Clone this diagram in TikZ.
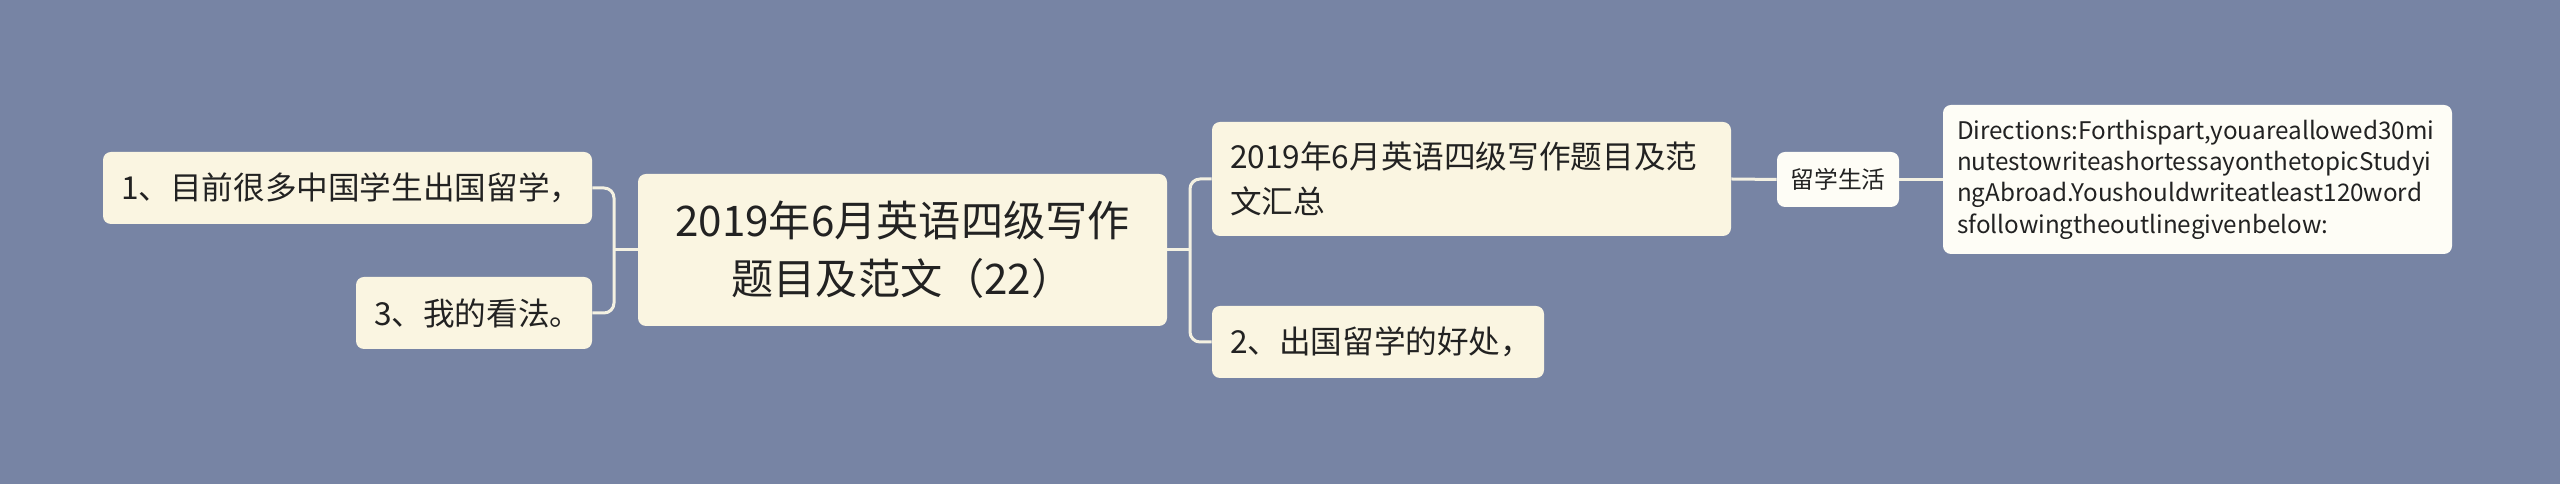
\documentclass[tikz,border=0pt]{standalone}
\usepackage{fontspec}
\setmainfont{Noto Sans CJK SC}
\usepackage{tikz}
\pgfdeclarelayer{bg}
\pgfsetlayers{bg,main}
\definecolor{bgblue}{HTML}{7784A4}
\definecolor{cream}{HTML}{FAF5E1}
\definecolor{paper}{HTML}{FEFDF6}
\definecolor{ink}{HTML}{222222}
\definecolor{wirecol}{HTML}{F4F1E2}
\tikzset{
    every node/.style={rectangle, rounded corners=0.16cm, inner ysep=0mm, text=ink}
}
\tikzset{topic/.style={fill=cream, inner xsep=0.36cm, align=center, font=\fontsize{24}{33}\selectfont}}
\tikzset{sub/.style={fill=cream, inner xsep=0.36cm, align=left, font=\fontsize{18}{26}\selectfont}}
\tikzset{tagbox/.style={fill=paper, inner xsep=0.2cm, font=\fontsize{13.5}{17}\selectfont}}
\tikzset{notebox/.style={fill=paper, inner xsep=0.28cm, align=left, font=\fontsize{13.8}{17.8}\selectfont}}
\tikzset{link/.style={draw=wirecol, line width=0.06cm}}

\begin{document}
\begin{tikzpicture}
    \useasboundingbox (0cm, 0cm) rectangle (51.2cm, 9.68cm);

    \node (c) [topic, text width=9.86cm, minimum height=3.04cm] at (18.05cm, 4.68cm) {2019年6月英语四级写作\\题目及范文（22）};

    \node (l1) [sub, text width=9.06cm, minimum height=1.44cm] at (6.95cm, 5.92cm) {1、目前很多中国学生出国留学，};
    \node (l3) [sub, text width=4.0cm, minimum height=1.44cm] at (9.48cm, 3.42cm) {3、我的看法。};
    \coordinate (lj) at (12.28cm, 4.68cm);

    \node (r1) [sub, text width=9.66cm, minimum height=2.28cm] at (29.43cm, 6.10cm) {2019年6月英语四级写作题目及范\\文汇总};
    \node (r2) [sub, text width=5.92cm, minimum height=1.44cm] at (27.56cm, 2.84cm) {2、出国留学的好处，};
    \coordinate (rj) at (23.8cm, 4.68cm);

    \node (t1) [tagbox, minimum width=2.44cm, minimum height=1.10cm] at (36.76cm, 6.09cm) {留学生活};
    \node (d1) [notebox, text width=9.62cm, minimum height=2.98cm] at (43.95cm, 6.09cm) {Directions:Forthispart,youareallowed30mi\\nutestowriteashortessayonthetopicStudyi\\ngAbroad.Youshouldwriteatleast120word\\sfollowingtheoutlinegivenbelow:};

    \begin{pgfonlayer}{bg}
        \fill[bgblue] (0cm, 0cm) rectangle (51.2cm, 9.68cm);

        \draw[link] (c.west) -- (lj);
        \draw[link, rounded corners=0.2cm] (lj) |- (l1.east);
        \draw[link, rounded corners=0.2cm] (lj) |- (l3.east);

        \draw[link] (c.east) -- (rj);
        \draw[link, rounded corners=0.2cm] (rj) |- (r1.west);
        \draw[link, rounded corners=0.2cm] (rj) |- (r2.west);

        \draw[link] (r1.east) -- (t1.west);
        \draw[link] (t1.east) -- (d1.west);
    \end{pgfonlayer}
\end{tikzpicture}
\end{document}
